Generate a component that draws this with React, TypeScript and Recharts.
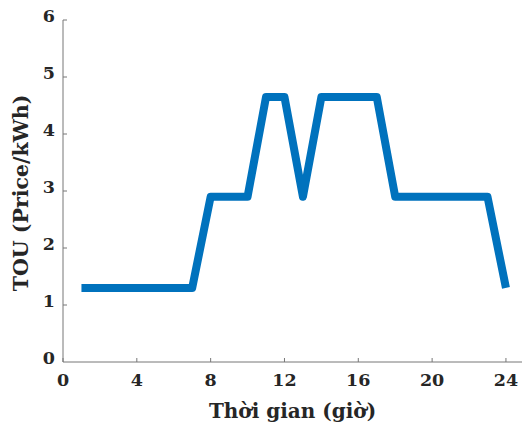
import React from "react";
import { LineChart, Line, XAxis, YAxis } from "recharts";

const hours = [1, 2, 3, 4, 5, 6, 7, 8, 9, 10, 11, 12, 13, 14, 15, 16, 17, 18, 19, 20, 21, 22, 23, 24];
const prices = [1.3, 1.3, 1.3, 1.3, 1.3, 1.3, 1.3, 2.9, 2.9, 2.9, 4.65, 4.65, 2.9, 4.65, 4.65, 4.65, 4.65, 2.9, 2.9, 2.9, 2.9, 2.9, 2.9, 1.3];
const xTicks = [0, 4, 8, 12, 16, 20, 24];
const yTicks = [0, 1, 2, 3, 4, 5, 6];

const data = hours.map((h, i) => ({ hour: h, price: prices[i] }));

const FONT = "'DejaVu Serif', serif";
const TEXT = "#262626";
const AXIS = "#777777";

const XTick = (props: any) => {
  const { x, y, payload } = props;
  return (
    <g>
      <line x1={x} x2={x} y1={y - 12} y2={y - 16} stroke={AXIS} strokeWidth={1} />
      <text x={x} y={y} dy={12} textAnchor="middle" fontFamily={FONT} fontWeight="bold" fontSize={17.5} fill={TEXT}>
        {payload.value}
      </text>
    </g>
  );
};

const YTick = (props: any) => {
  const { x, y, payload } = props;
  return (
    <g>
      {payload.value !== 0 && (
        <line x1={x + 8} x2={x + 12} y1={y} y2={y} stroke={AXIS} strokeWidth={1} />
      )}
      <text x={x} y={y} dy={2} textAnchor="end" fontFamily={FONT} fontWeight="bold" fontSize={17.5} fill={TEXT}>
        {payload.value}
      </text>
    </g>
  );
};

export default function App() {
  return (
    <div style={{ position: "absolute", left: 0, top: 0, width: 522, height: 424, background: "#fff" }}>
      <LineChart width={522} height={424} data={data} margin={{ top: 20, right: 0, left: 0, bottom: 0 }}>
        <XAxis
          dataKey="hour"
          type="number"
          domain={[0, 24.87]}
          ticks={xTicks}
          tickSize={0}
          tickMargin={12}
          tickLine={false}
          axisLine={{ stroke: AXIS, strokeWidth: 1 }}
          tick={<XTick />}
          height={62}
          interval={0}
          allowDataOverflow
          label={(p: any) => {
            const vb = p.viewBox;
            return (
              <text x={vb.x + vb.width / 2} y={vb.y + 56} textAnchor="middle" fontFamily={FONT} fontWeight="bold" fontSize={20} fill={TEXT}>
                Thời gian (giờ)
              </text>
            );
          }}
        />
        <YAxis
          type="number"
          domain={[0, 6]}
          ticks={yTicks}
          tickSize={0}
          tickMargin={8}
          tickLine={false}
          axisLine={{ stroke: AXIS, strokeWidth: 1 }}
          tick={<YTick />}
          width={63}
          interval={0}
          label={(p: any) => {
            const vb = p.viewBox;
            const cy = vb.y + vb.height / 2 + 2;
            return (
              <text x={21} y={cy} transform={`rotate(-90, 21, ${cy})`} dy={7} textAnchor="middle" fontFamily={FONT} fontWeight="bold" fontSize={20.5} fill={TEXT}>
                TOU (Price/kWh)
              </text>
            );
          }}
        />
        <Line
          dataKey="price"
          stroke="#0072BD"
          strokeWidth={8}
          dot={false}
          activeDot={false}
          strokeLinejoin="round"
          isAnimationActive={false}
        />
      </LineChart>
    </div>
  );
}
